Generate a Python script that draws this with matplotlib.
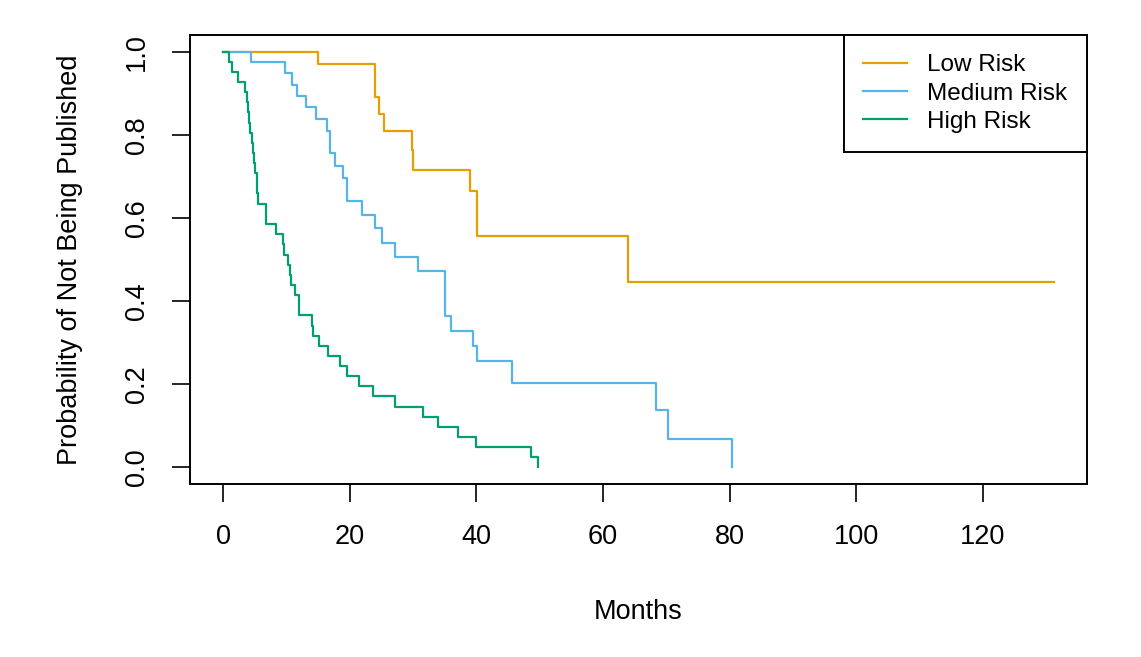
import matplotlib
matplotlib.use('Agg')
import matplotlib.pyplot as plt

plt.rcParams['font.family'] = ['Liberation Sans', 'DejaVu Sans']

# Kaplan-Meier estimates (months, survival)
low_t = [0, 14.9, 24.0, 24.6, 25.4, 29.8, 30.0, 39.0, 40.1, 63.9, 131.2]
low_s = [1.0, 0.970, 0.892, 0.851, 0.810, 0.763, 0.716, 0.666, 0.557, 0.446, 0.446]

med_t = [0, 4.4, 9.7, 10.9, 11.6, 13.1, 14.7, 16.4, 16.8, 17.7, 19.0, 19.5, 22.0,
         24.0, 25.1, 27.1, 30.8, 35.1, 36.0, 39.4, 40.1, 45.6, 68.4, 70.3, 80.4]
med_s = [1.0, 0.975, 0.949, 0.920, 0.894, 0.866, 0.838, 0.810, 0.756, 0.726, 0.697,
         0.641, 0.607, 0.577, 0.539, 0.507, 0.473, 0.364, 0.329, 0.291, 0.255, 0.204,
         0.137, 0.068, 0.0]

high_t = [0, 0.85, 1.4, 2.4, 3.4, 3.7, 3.9, 4.1, 4.3, 4.5, 4.7, 4.9, 5.1, 5.3, 5.4,
          5.5, 6.7, 8.4, 9.4, 9.6, 10.3, 10.5, 10.7, 11.3, 11.9, 12.0, 14.0, 14.2,
          15.2, 16.5, 18.5, 19.6, 21.5, 23.6, 27.2, 31.5, 34.0, 37.1, 39.9, 48.6, 49.8]
high_s = [1.0, 0.976, 0.951, 0.927, 0.902, 0.878, 0.854, 0.829, 0.805, 0.780, 0.756,
          0.732, 0.707, 0.683, 0.659, 0.634, 0.585, 0.561, 0.537, 0.512, 0.488, 0.463,
          0.439, 0.415, 0.390, 0.366, 0.341, 0.317, 0.293, 0.268, 0.244, 0.220, 0.195,
          0.171, 0.146, 0.122, 0.098, 0.073, 0.049, 0.024, 0.0]

labels = ['Low Risk', 'Medium Risk', 'High Risk']
colors = ['#E69F00', '#56B4E9', '#009E73']
xticks = [0, 20, 40, 60, 80, 100, 120]
yticks = [0.0, 0.2, 0.4, 0.6, 0.8, 1.0]

fig = plt.figure(figsize=(11.41, 6.57), dpi=100)
ax = fig.add_axes([0.1665, 0.2633, 0.7862, 0.6834])

for t, s, lab, c in zip([low_t, med_t, high_t], [low_s, med_s, high_s], labels, colors):
    ax.step(t, s, where='post', color=c, lw=1.6, label=lab)

ax.set_xlim(-5.25, 136.45)
ax.set_ylim(-0.04, 1.04)
ax.set_xticks(xticks)
ax.set_yticks(yticks)
ax.set_yticklabels(['%.1f' % v for v in yticks], rotation=90, va='center')
ax.tick_params(direction='out', length=13, width=1.2, labelsize=19.5, pad=16)
ax.tick_params(axis='y', pad=16)
for sp in ax.spines.values():
    sp.set_linewidth(1.4)

ax.set_xlabel('Months', fontsize=19.5, labelpad=35)
ax.set_ylabel('Probability of Not Being Published', fontsize=19.5, labelpad=29)

leg = ax.legend(loc='upper right', fontsize=17.5, frameon=True, fancybox=False,
                borderaxespad=0, handlelength=1.8, handletextpad=0.85,
                borderpad=0.8, labelspacing=0.25)
leg.get_frame().set_edgecolor('black')
leg.get_frame().set_linewidth(1.4)
leg.get_frame().set_alpha(1)

plt.savefig('out.png', dpi=100)
